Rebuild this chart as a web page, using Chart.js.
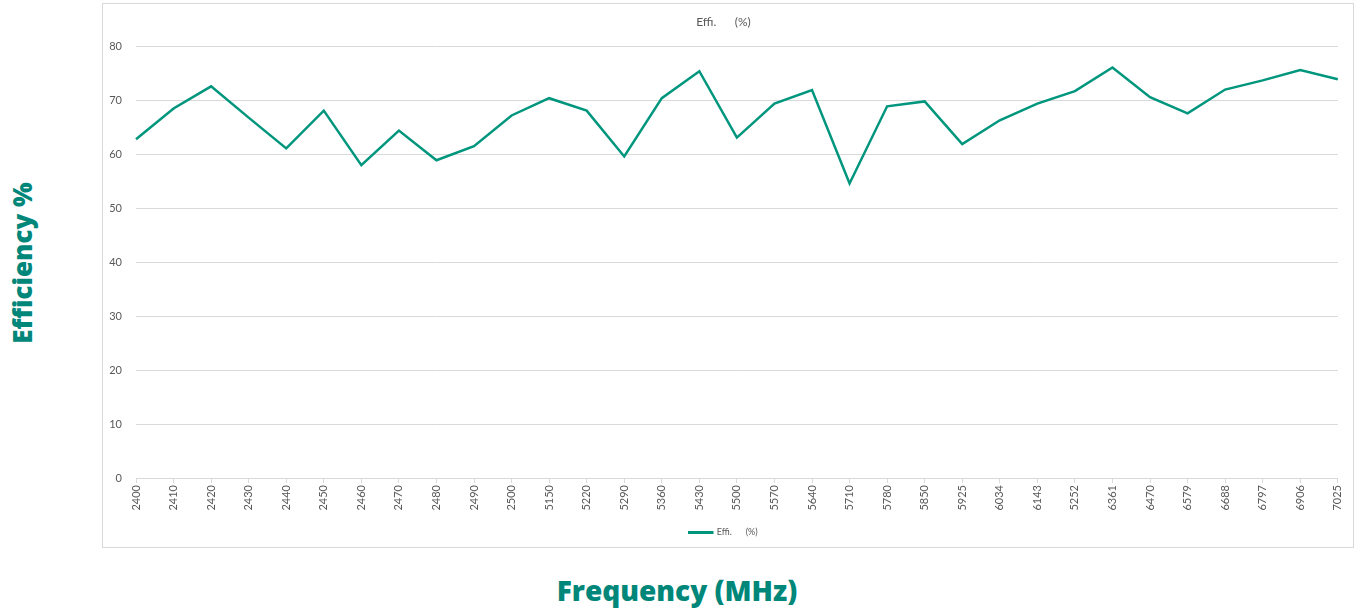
<!DOCTYPE html>
<html>
<head>
<meta charset="utf-8">
<script src="https://cdn.jsdelivr.net/npm/chart.js@4"></script>
<style>
  html, body { margin: 0; padding: 0; background: #fff; }
  body { width: 1359px; height: 611px; position: relative; overflow: hidden; }
  #box { position: absolute; left: 102px; top: 3px; width: 1250px; height: 543px; border: 1px solid #d9d9d9; }
  #box canvas { display: block; }
  .axtitle { position: absolute; color: #00877a; font-family: "Open Sans", sans-serif; font-weight: 800; white-space: nowrap; }
  #ytitle { left: 22px; top: 263px; font-size: 26px; transform: translate(-50%, -50%) rotate(-90deg); }
  #xtitle { left: 677px; top: 590px; font-size: 28px; transform: translate(-50%, -50%); }
</style>
</head>
<body>
<div id="box"><canvas id="myChart" width="1250" height="543"></canvas></div>
<div class="axtitle" id="ytitle">Efficiency %</div>
<div class="axtitle" id="xtitle">Frequency (MHz)</div>
<script>
  const freqs = ["2400", "2410", "2420", "2430", "2440", "2450", "2460", "2470", "2480", "2490",
    "2500", "5150", "5220", "5290", "5360", "5430", "5500", "5570", "5640", "5710", "5780",
    "5850", "5925", "6034", "6143", "5252", "6361", "6470", "6579", "6688", "6797", "6906", "7025"];
  const effi = [62.8, 68.5, 72.6, 66.8, 61.1, 68.1, 58.0, 64.4, 58.9, 61.5,
    67.2, 70.4, 68.1, 59.6, 70.4, 75.4, 63.1, 69.4, 71.9, 54.6, 68.9,
    69.8, 61.9, 66.3, 69.4, 71.7, 76.1, 70.6, 67.6, 72.0, 73.7, 75.6, 73.9];
  const yTicks = [0, 10, 20, 30, 40, 50, 60, 70, 80];

  const ctx = document.getElementById("myChart");
  const teal = "#00967d";
  const gray = "#595959";
  const font = "Lato, 'Liberation Sans', sans-serif";

  new Chart(ctx, {
    type: "line",
    data: {
      labels: freqs,
      datasets: [
        {
          label: "Effi.      (%)",
          data: effi,
          borderColor: teal,
          backgroundColor: teal,
          borderWidth: 2.5,
          pointRadius: 0,
          tension: 0,
        },
      ],
    },
    options: {
      responsive: false,
      animation: false,
      layout: { padding: { left: 0, right: 9, top: 0, bottom: 0 } },
      plugins: {
        title: {
          display: true,
          text: "Effi.      (%)",
          color: gray,
          font: { family: font, size: 12, weight: "normal" },
          padding: { top: 11, bottom: 17 },
        },
        legend: {
          position: "bottom",
          labels: {
            color: gray,
            font: { family: font, size: 9 },
            boxWidth: 23,
            boxHeight: 0.5,
            padding: 10,
          },
        },
        tooltip: { enabled: false },
      },
      scales: {
        x: {
          grid: { drawOnChartArea: false, drawTicks: true, tickLength: 5, color: "#d9d9d9" },
          border: { color: "#d9d9d9" },
          ticks: {
            color: gray,
            font: { family: font, size: 11 },
            minRotation: 90,
            maxRotation: 90,
            autoSkip: false,
            padding: 2,
          },
          afterFit: (scale) => { scale.height = 40; },
        },
        y: {
          min: yTicks[0],
          max: yTicks[yTicks.length - 1],
          grid: { color: "#d9d9d9", drawTicks: false },
          border: { display: false },
          ticks: {
            stepSize: 10,
            color: gray,
            font: { family: font, size: 11 },
            padding: 14,
          },
          afterFit: (scale) => { scale.width = 33; },
        },
      },
    },
  });
</script>
</body>
</html>
